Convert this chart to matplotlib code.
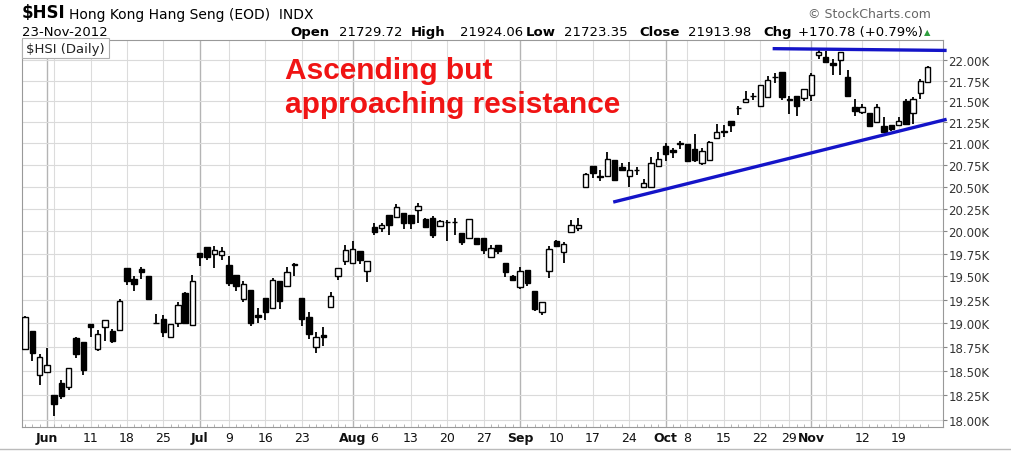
import numpy as np
import pandas as pd
import matplotlib
matplotlib.use('Agg')
import matplotlib.pyplot as plt
from matplotlib.lines import Line2D
from matplotlib.ticker import NullLocator

plt.rcParams['font.family'] = ['DejaVu Sans']

# HSI daily bars, 29-May-2012 .. 23-Nov-2012 (HK holidays removed)
holidays = ['2012-07-02', '2012-10-01', '2012-10-02', '2012-10-23']
dates = pd.bdate_range('2012-05-29', '2012-11-23')
dates = dates[~dates.isin(pd.to_datetime(holidays))]

opens = [
    18730, 18911, 18457, 18493, 18257, 18375, 18339, 18843, 18804, 18986,
    18726, 18957, 18911, 18921, 19589, 19475, 19579, 19500, 19000, 19039,
    18857, 19000, 19316, 18983, 19753, 19820, 19746, 19735, 19629, 19517,
    19257, 19354, 19087, 19264, 19160, 19448, 19396, 19620, 19264, 19059,
    18750, 18873, 19170, 19500, 19668, 19650, 19775, 19561, 20049, 20030,
    20182, 20152, 20201, 20182, 20239, 20136, 20144, 20060, 20106, 20100,
    19975, 19925, 19918, 19925, 19711, 19848, 19645, 19508, 19390, 19571,
    19346, 19118, 19554, 19886, 19768, 19993, 20036, 20493, 20742, 20621,
    20621, 20808, 20723, 20621, 20695, 20493, 20493, 20742, 20973, 20920,
    20990, 20992, 20933, 20770, 20810, 21063, 21131, 21270, 21418, 21488,
    21560, 21441, 21555, 21789, 21852, 21531, 21559, 21538, 21579, 22060,
    22040, 21960, 22000, 21789, 21437, 21369, 21357, 21250, 21200, 21212,
    21212, 21500, 21355, 21605, 21729.72]
highs = [
    19070, 18915, 18674, 18736, 18257, 18411, 18529, 18850, 18804, 18986,
    18921, 19036, 18939, 19261, 19589, 19500, 19600, 19507, 19100, 19082,
    18990, 19225, 19330, 19517, 19753, 19820, 19835, 19817, 19728, 19517,
    19448, 19354, 19157, 19264, 19483, 19448, 19604, 19646, 19264, 19112,
    18902, 18961, 19334, 19587, 19840, 19886, 19775, 19668, 20087, 20093,
    20182, 20303, 20201, 20182, 20314, 20150, 20163, 20125, 20125, 20144,
    19975, 20133, 19918, 19925, 19846, 19848, 19645, 19520, 19600, 19571,
    19346, 19225, 19839, 19900, 19880, 20125, 20150, 20658, 20742, 20692,
    20896, 20808, 20769, 20781, 20731, 20585, 20846, 20895, 21000, 20944,
    21024, 20992, 21111, 20952, 21031, 21230, 21222, 21270, 21445, 21625,
    21605, 21695, 21801, 21840, 21852, 21560, 21559, 21645, 21841, 22139,
    22107, 22012, 22099, 21880, 21527, 21468, 21357, 21468, 21309, 21212,
    21309, 21527, 21547, 21773, 21924.06]
lows = [
    18720, 18604, 18357, 18485, 18043, 18207, 18304, 18632, 18457, 18850,
    18708, 18814, 18789, 18921, 19411, 19339, 19471, 19261, 18986, 18857,
    18850, 18957, 18990, 18983, 19610, 19678, 19588, 19678, 19396, 19344,
    19222, 18972, 19000, 19036, 19160, 19147, 19396, 19500, 18972, 18831,
    18690, 18760, 19170, 19465, 19625, 19650, 19639, 19436, 19957, 19993,
    19950, 20152, 20023, 20023, 20087, 20040, 19918, 20060, 19889, 19957,
    19846, 19925, 19854, 19746, 19711, 19746, 19490, 19455, 19360, 19400,
    19132, 19082, 19482, 19829, 19650, 19993, 20000, 20493, 20603, 20566,
    20621, 20573, 20677, 20500, 20639, 20493, 20480, 20742, 20798, 20831,
    20940, 20790, 20790, 20750, 20810, 21063, 21071, 21131, 21340, 21488,
    21516, 21441, 21539, 21723, 21520, 21349, 21329, 21508, 21508, 22012,
    21980, 21821, 21817, 21555, 21329, 21349, 21189, 21250, 21123, 21143,
    21212, 21212, 21224, 21527, 21723.35]
closes = [
    19060, 18680, 18639, 18563, 18161, 18243, 18529, 18674, 18507, 18957,
    18879, 19036, 18814, 19236, 19446, 19421, 19543, 19261, 19000, 18904,
    18986, 19189, 19000, 19448, 19717, 19714, 19792, 19782, 19424, 19396,
    19420, 19000, 19059, 19118, 19458, 19240, 19552, 19635, 19042, 18884,
    18856, 18849, 19285, 19587, 19793, 19804, 19675, 19668, 19993, 20068,
    20068, 20265, 20087, 20087, 20277, 20049, 19957, 20114, 20100, 20100,
    19882, 20133, 19854, 19793, 19811, 19775, 19545, 19460, 19560, 19426,
    19151, 19225, 19804, 19829, 19857, 20071, 20064, 20640, 20658, 20610,
    20819, 20573, 20696, 20696, 20690, 20548, 20769, 20822, 20879, 20905,
    21000, 20798, 20810, 20911, 21012, 21131, 21147, 21222, 21420, 21527,
    21565, 21695, 21762, 21795, 21547, 21512, 21441, 21645, 21813, 22100,
    21980, 21933, 22099, 21566, 21382, 21428, 21204, 21433, 21135, 21174,
    21262, 21224, 21527, 21750, 21913.98]

# hand-drawn trend lines: (bar index, price) at each end
support_line = [(80.8, 20325), (126.6, 21285)]
resistance_line = [(102.7, 22140), (126.6, 22118)]

price_ticks = np.arange(18000, 22001, 250)

W, H = 1012, 452
fig = plt.figure(figsize=(W / 100, H / 100), dpi=100)

def px(x, y):
    return x / W, 1 - y / H

ax = fig.add_axes([22 / W, 1 - 428 / H, (943 - 22) / W, (428 - 41) / H])

x = np.arange(len(dates))
o = np.array(opens); hi = np.array(highs); lo = np.array(lows); c = np.array(closes)
up = c >= o

# candles
ax.vlines(x, lo, hi, color='black', lw=1.3, zorder=3)
ax.bar(x, np.abs(c - o), bottom=np.minimum(o, c), width=0.74,
       color=np.where(up, 'white', 'black'), edgecolor='black',
       linewidth=1.0, zorder=4)

ax.set_yscale('log')
ax.set_ylim(17930, 22247)
ax.set_xlim(-0.41, 126.1)

# y axis on the right
ax.yaxis.tick_right()
ax.set_yticks(price_ticks)
ax.set_yticklabels([f'{v / 1000:.2f}K' for v in price_ticks])
ax.yaxis.set_minor_locator(NullLocator())
ax.tick_params(axis='y', length=3, width=0.8, color='#888888', pad=1,
               labelsize=8.5, labelcolor='#333333')
ax.yaxis.grid(True, color='#dadada', lw=0.8, zorder=0)

# week / month gridlines and labels
d = pd.Series(dates)
wk = (d.dt.to_period('W') != d.shift().dt.to_period('W')).to_numpy()
mo = (d.dt.month != d.shift().dt.month).to_numpy()
wk[0] = mo[0] = False
month_idx = np.where(mo)[0]

tick_pos, tick_lab, tick_bold = [], [], []
for i in range(len(dates)):
    if mo[i]:
        ax.axvline(i, color='#b4b4b4', lw=1.0, zorder=0)
        tick_pos.append(i); tick_lab.append(dates[i].strftime('%b')); tick_bold.append(True)
    elif wk[i]:
        ax.axvline(i, color='#dcdcdc', lw=0.8, zorder=0)
        if np.min(np.abs(month_idx - i)) > 2:
            tick_pos.append(i); tick_lab.append(str(dates[i].day)); tick_bold.append(False)

ax.set_xticks(tick_pos)
ax.set_xticklabels(tick_lab)
for t, b in zip(ax.get_xticklabels(), tick_bold):
    if b:
        t.set_fontweight('bold')
ax.tick_params(axis='x', length=0, pad=3, labelsize=9, labelcolor='#111111')
ax.set_xticks(x, minor=True)
ax.tick_params(axis='x', which='minor', length=2, direction='in', color='#aaaaaa')

for s in ax.spines.values():
    s.set_color('#999999')
    s.set_linewidth(0.8)

# trend lines
for line in (support_line, resistance_line):
    ax.plot([p[0] for p in line], [p[1] for p in line], color='#1414c8',
            lw=2.4, solid_capstyle='butt', clip_on=False, zorder=5)

# annotation
for txt, yb in (('Ascending but', 79), ('approaching resistance', 113)):
    fig.text(*px(285, yb), txt, color='#f01414', fontsize=21.5, fontweight='bold',
             family=['Liberation Sans', 'DejaVu Sans'], va='baseline', ha='left')

# legend box inside plot
ax.text(4 / (943 - 22), 1 - 8 / (428 - 41), '$HSI (Daily)', transform=ax.transAxes,
        fontsize=9.5, va='center', ha='left', color='#222222', zorder=6,
        bbox=dict(boxstyle='square,pad=0.3', fc='white', ec='#b0b0b0', lw=0.8))

# header
fig.text(*px(22, 18.5), '$HSI', fontsize=12, fontweight='bold', va='baseline')
fig.text(*px(69, 18.5), 'Hong Kong Hang Seng (EOD)  INDX', fontsize=10, va='baseline')
fig.text(*px(22, 36), '23-Nov-2012', fontsize=9.5, va='baseline')
fig.text(*px(808, 18), '\u00a9 StockCharts.com', fontsize=9, color='#666666', va='baseline')

header = [('Open', 290, True), ('21729.72', 339, False), ('High', 411, True),
          ('21924.06', 460, False), ('Low', 526, True), ('21723.35', 564, False),
          ('Close', 639, True), ('21913.98', 688, False), ('Chg', 763, True),
          ('+170.78 (+0.79%)', 798, False)]
for txt, xp, b in header:
    fig.text(*px(xp, 36), txt, fontsize=9.5, va='baseline',
             fontweight='bold' if b else 'normal')
fig.text(*px(924, 35), '\u25b2', fontsize=6, color='#2e9e3e', va='baseline')

fig.add_artist(Line2D([0, 1], [1 - 450 / H] * 2, color='#bbbbbb', lw=1))

fig.savefig('out.png', dpi=100)
